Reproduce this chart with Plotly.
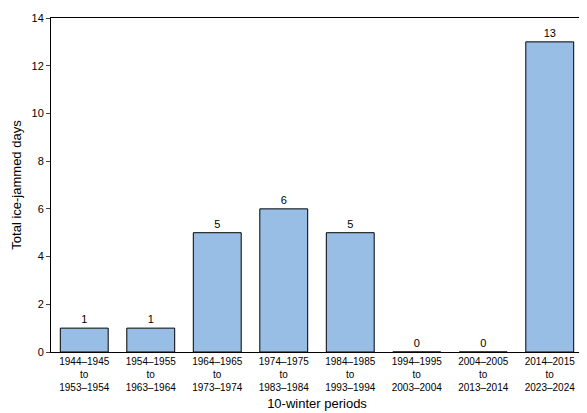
import plotly.graph_objects as go

periods = ["1944–1945<br>to<br>1953–1954", "1954–1955<br>to<br>1963–1964",
           "1964–1965<br>to<br>1973–1974", "1974–1975<br>to<br>1983–1984",
           "1984–1985<br>to<br>1993–1994", "1994–1995<br>to<br>2003–2004",
           "2004–2005<br>to<br>2013–2014", "2014–2015<br>to<br>2023–2024"]
days = [1, 1, 5, 6, 5, 0, 0, 13]

font = "Liberation Sans Narrow, Arial Narrow, sans-serif"

fig = go.Figure(go.Bar(
    x=periods, y=days,
    text=[str(d) for d in days], textposition="outside",
    textfont=dict(size=11, color="black"),
    marker=dict(color="#98bee6", line=dict(color="black", width=1)),
    width=0.72, cliponaxis=False,
))
fig.update_layout(
    width=580, height=413,
    margin=dict(l=43, r=4, t=7, b=69),
    plot_bgcolor="white", paper_bgcolor="white",
    font=dict(family=font, size=11, color="black"),
    showlegend=False,
)
fig.update_xaxes(showline=True, linecolor="black", mirror=True, ticks="",
                 title=dict(text="10-winter periods", standoff=6),
                 tickfont=dict(size=10))
fig.update_yaxes(range=[0, 14], dtick=2, showline=True, linecolor="black",
                 mirror=True, ticks="outside", ticklen=4, showgrid=False,
                 zeroline=False, title=dict(text="Total ice-jammed days", standoff=6))
fig.write_html("out.html")
